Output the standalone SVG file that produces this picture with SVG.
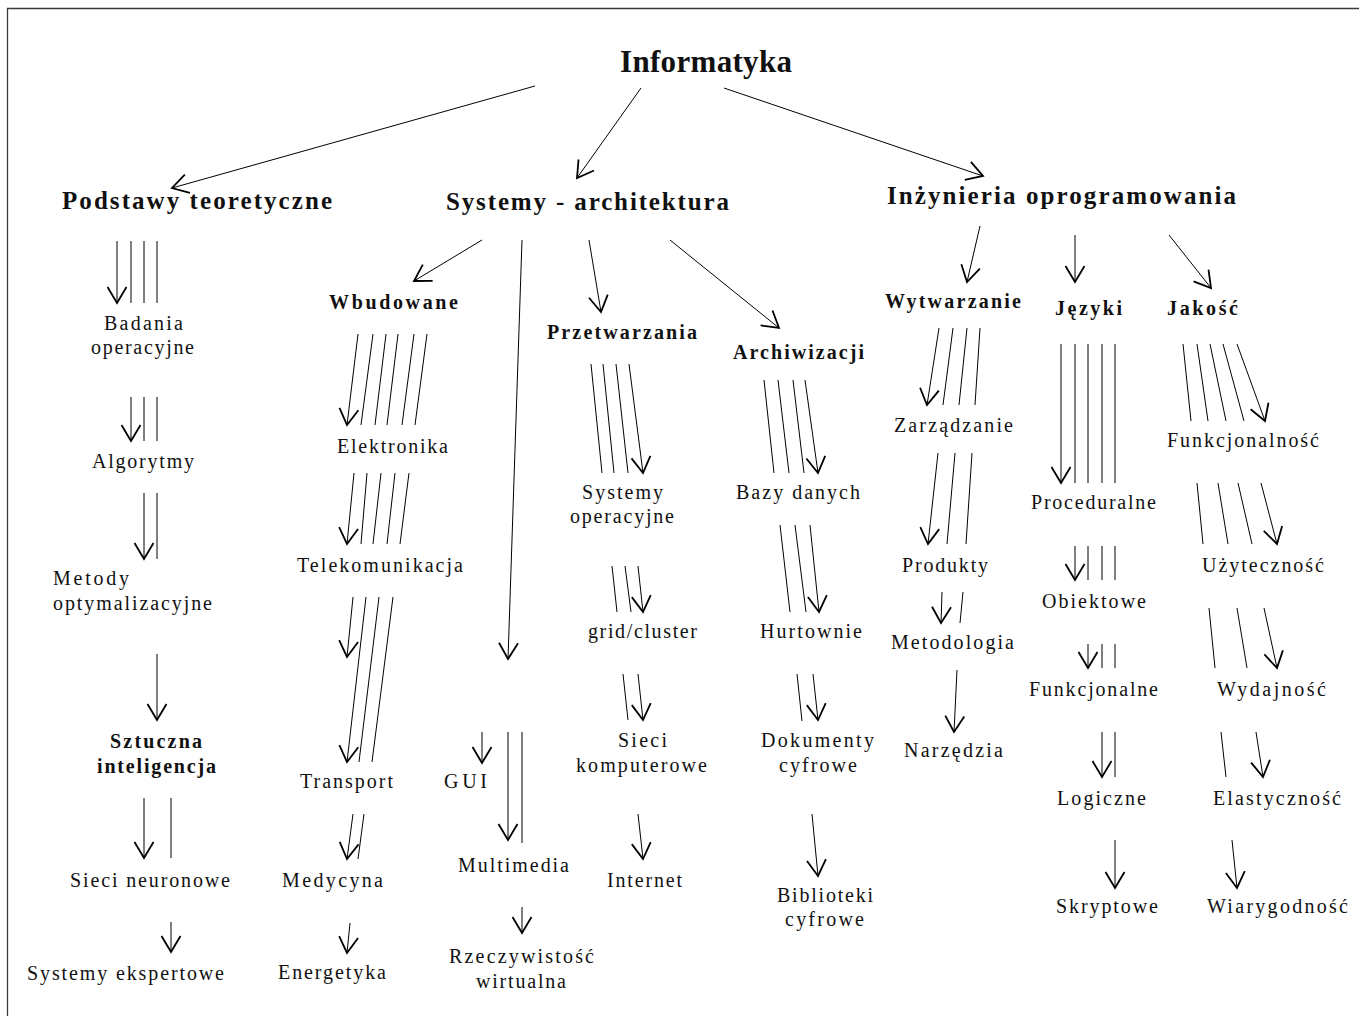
<svg xmlns="http://www.w3.org/2000/svg" width="1359" height="1016" viewBox="0 0 1359 1016">
  <style>
    .t { font-family: "Liberation Serif", "Times New Roman", serif; font-size: 20px; fill: #111; }
    .b { font-weight: bold; font-size: 20px; }
    .h { font-weight: bold; font-size: 25px; }
    .top { font-weight: bold; font-size: 31px; }
    .ln { stroke: #000; stroke-width: 1; fill: none; }
    .ar { stroke: #000; stroke-width: 1; fill: none; marker-end: url(#ah); }
    .frame { stroke: #3a3a3a; stroke-width: 1.3; fill: none; }
  </style>
  <defs>
    <marker id="ah" markerUnits="userSpaceOnUse" viewBox="-20 -12 24 24" refX="0" refY="0" markerWidth="24" markerHeight="24" orient="auto" overflow="visible">
      <path d="M-16,-9.5 L0,0 L-16,9.5" fill="none" stroke="#000" stroke-width="1.8"/>
    </marker>
  </defs>
  <rect width="1359" height="1016" fill="#fff"/>
  <path class="frame" d="M7.5,1016 V8.5 H1359"/>

  <!-- root -->
  <g id="informatyka"><text class="t top" x="620" y="72" textLength="172">Informatyka</text></g>

  <!-- main branches -->
  <g id="podstawy"><text class="t h" x="62" y="209" textLength="270">Podstawy teoretyczne</text></g>
  <g id="systemy"><text class="t h" x="446" y="210" textLength="283">Systemy - architektura</text></g>
  <g id="inzynieria"><text class="t h" x="887" y="204" textLength="349">Inżynieria oprogramowania</text></g>

  <!-- Podstawy teoretyczne -->
  <g id="badania"><text class="t" x="104" y="330" textLength="79">Badania</text><text class="t" x="91" y="354" textLength="103">operacyjne</text></g>
  <g id="algorytmy"><text class="t" x="92" y="468" textLength="102">Algorytmy</text></g>
  <g id="metody"><text class="t" x="53" y="585" textLength="76">Metody</text><text class="t" x="53" y="610" textLength="159">optymalizacyjne</text></g>
  <g id="sztuczna"><text class="t b" x="110" y="748" textLength="92">Sztuczna</text><text class="t b" x="97" y="773" textLength="119">inteligencja</text></g>
  <g id="sieci-neuronowe"><text class="t" x="70" y="887" textLength="160">Sieci neuronowe</text></g>
  <g id="systemy-ekspertowe"><text class="t" x="27" y="980" textLength="197">Systemy ekspertowe</text></g>

  <!-- Wbudowane -->
  <g id="wbudowane"><text class="t b" x="329" y="309" textLength="129">Wbudowane</text></g>
  <g id="elektronika"><text class="t" x="337" y="453" textLength="111">Elektronika</text></g>
  <g id="telekomunikacja"><text class="t" x="297" y="572" textLength="166">Telekomunikacja</text></g>
  <g id="transport"><text class="t" x="300" y="788" textLength="93">Transport</text></g>
  <g id="medycyna"><text class="t" x="282" y="887" textLength="101">Medycyna</text></g>
  <g id="energetyka"><text class="t" x="278" y="979" textLength="108">Energetyka</text></g>

  <!-- Systemy: middle -->
  <g id="gui"><text class="t" x="444" y="788" textLength="43">GUI</text></g>
  <g id="multimedia"><text class="t" x="458" y="872" textLength="111">Multimedia</text></g>
  <g id="rzeczywistosc"><text class="t" x="449" y="963" textLength="145">Rzeczywistość</text><text class="t" x="476" y="988" textLength="90">wirtualna</text></g>

  <!-- Przetwarzania -->
  <g id="przetwarzania"><text class="t b" x="547" y="339" textLength="150">Przetwarzania</text></g>
  <g id="systemy-operacyjne"><text class="t" x="582" y="499" textLength="81">Systemy</text><text class="t" x="570" y="523" textLength="104">operacyjne</text></g>
  <g id="grid"><text class="t" x="588" y="638" textLength="109">grid/cluster</text></g>
  <g id="sieci-komputerowe"><text class="t" x="618" y="747" textLength="49">Sieci</text><text class="t" x="576" y="772" textLength="131">komputerowe</text></g>
  <g id="internet"><text class="t" x="607" y="887" textLength="75">Internet</text></g>

  <!-- Archiwizacji -->
  <g id="archiwizacji"><text class="t b" x="733" y="359" textLength="131">Archiwizacji</text></g>
  <g id="bazy"><text class="t" x="736" y="499" textLength="124">Bazy danych</text></g>
  <g id="hurtownie"><text class="t" x="760" y="638" textLength="102">Hurtownie</text></g>
  <g id="dokumenty"><text class="t" x="761" y="747" textLength="113">Dokumenty</text><text class="t" x="779" y="772" textLength="78">cyfrowe</text></g>
  <g id="biblioteki"><text class="t" x="777" y="902" textLength="96">Biblioteki</text><text class="t" x="785" y="926" textLength="79">cyfrowe</text></g>

  <!-- Wytwarzanie -->
  <g id="wytwarzanie"><text class="t b" x="885" y="308" textLength="136">Wytwarzanie</text></g>
  <g id="zarzadzanie"><text class="t" x="894" y="432" textLength="119">Zarządzanie</text></g>
  <g id="produkty"><text class="t" x="902" y="572" textLength="86">Produkty</text></g>
  <g id="metodologia"><text class="t" x="891" y="649" textLength="123">Metodologia</text></g>
  <g id="narzedzia"><text class="t" x="904" y="757" textLength="99">Narzędzia</text></g>

  <!-- Języki -->
  <g id="jezyki"><text class="t b" x="1055" y="315" textLength="67">Języki</text></g>
  <g id="proceduralne"><text class="t" x="1031" y="509" textLength="125">Proceduralne</text></g>
  <g id="obiektowe"><text class="t" x="1042" y="608" textLength="104">Obiektowe</text></g>
  <g id="funkcjonalne"><text class="t" x="1029" y="696" textLength="129">Funkcjonalne</text></g>
  <g id="logiczne"><text class="t" x="1057" y="805" textLength="89">Logiczne</text></g>
  <g id="skryptowe"><text class="t" x="1056" y="913" textLength="102">Skryptowe</text></g>

  <!-- Jakość -->
  <g id="jakosc"><text class="t b" x="1167" y="315" textLength="71">Jakość</text></g>
  <g id="funkcjonalnosc"><text class="t" x="1167" y="447" textLength="152">Funkcjonalność</text></g>
  <g id="uzytecznosc"><text class="t" x="1202" y="572" textLength="122">Użyteczność</text></g>
  <g id="wydajnosc"><text class="t" x="1217" y="696" textLength="109">Wydajność</text></g>
  <g id="elastycznosc"><text class="t" x="1213" y="805" textLength="128">Elastyczność</text></g>
  <g id="wiarygodnosc"><text class="t" x="1207" y="913" textLength="141">Wiarygodność</text></g>

  <g id="connectors">
    <!-- root to branches -->
    <line class="ar" x1="535" y1="86" x2="172" y2="188"/>
    <line class="ar" x1="641" y1="88" x2="577" y2="178"/>
    <line class="ar" x1="724" y1="88" x2="983" y2="176"/>

    <!-- Podstawy teoretyczne chain -->
    <line class="ar" x1="117" y1="241" x2="117" y2="303"/>
    <line class="ln" x1="131" y1="241" x2="131" y2="303"/>
    <line class="ln" x1="144" y1="241" x2="144" y2="303"/>
    <line class="ln" x1="157" y1="241" x2="157" y2="303"/>
    <line class="ar" x1="131" y1="397" x2="131" y2="441"/>
    <line class="ln" x1="144" y1="397" x2="144" y2="441"/>
    <line class="ln" x1="157" y1="397" x2="157" y2="441"/>
    <line class="ar" x1="144" y1="493" x2="144" y2="559"/>
    <line class="ln" x1="157" y1="493" x2="157" y2="559"/>
    <line class="ar" x1="157" y1="654" x2="157" y2="720"/>
    <line class="ar" x1="144" y1="798" x2="144" y2="858"/>
    <line class="ln" x1="171" y1="798" x2="171" y2="858"/>
    <line class="ar" x1="171" y1="922" x2="171" y2="952"/>

    <!-- Systemy - architektura fan-out -->
    <line class="ar" x1="482" y1="240" x2="414" y2="281"/>
    <line class="ar" x1="522" y1="240" x2="508" y2="659"/>
    <line class="ar" x1="589" y1="240" x2="601" y2="312"/>
    <line class="ar" x1="670" y1="240" x2="779" y2="328"/>

    <!-- Wbudowane chain -->
    <line class="ar" x1="358" y1="334" x2="347" y2="425"/>
    <line class="ln" x1="373" y1="334" x2="361" y2="425"/>
    <line class="ln" x1="386" y1="334" x2="375" y2="425"/>
    <line class="ln" x1="398" y1="334" x2="387" y2="425"/>
    <line class="ln" x1="414" y1="334" x2="402" y2="425"/>
    <line class="ln" x1="427" y1="334" x2="415" y2="425"/>
    <line class="ar" x1="354" y1="473" x2="347" y2="544"/>
    <line class="ln" x1="367" y1="473" x2="361" y2="544"/>
    <line class="ln" x1="381" y1="473" x2="373" y2="544"/>
    <line class="ln" x1="395" y1="473" x2="387" y2="544"/>
    <line class="ln" x1="409" y1="473" x2="400" y2="544"/>
    <line class="ar" x1="353" y1="597" x2="347" y2="657"/>
    <line class="ar" x1="366" y1="597" x2="347" y2="762"/>
    <line class="ln" x1="379" y1="597" x2="359" y2="762"/>
    <line class="ln" x1="393" y1="597" x2="372" y2="762"/>
    <line class="ar" x1="353" y1="814" x2="347" y2="859"/>
    <line class="ln" x1="364" y1="814" x2="358" y2="859"/>
    <line class="ar" x1="350" y1="923" x2="347" y2="953"/>

    <!-- GUI / Multimedia -->
    <line class="ar" x1="482" y1="732" x2="482" y2="763"/>
    <line class="ar" x1="508" y1="732" x2="508" y2="840"/>
    <line class="ln" x1="522" y1="732" x2="522" y2="843"/>
    <line class="ar" x1="522" y1="907" x2="522" y2="933"/>

    <!-- Przetwarzania chain -->
    <line class="ln" x1="591" y1="364" x2="602" y2="473"/>
    <line class="ln" x1="603" y1="364" x2="614" y2="473"/>
    <line class="ln" x1="616" y1="364" x2="628" y2="473"/>
    <line class="ar" x1="629" y1="364" x2="643" y2="473"/>
    <line class="ln" x1="612" y1="566" x2="617" y2="612"/>
    <line class="ln" x1="625" y1="566" x2="631" y2="612"/>
    <line class="ar" x1="638" y1="566" x2="643" y2="612"/>
    <line class="ln" x1="623" y1="674" x2="628" y2="720"/>
    <line class="ar" x1="638" y1="674" x2="643" y2="720"/>
    <line class="ar" x1="638" y1="814" x2="643" y2="859"/>

    <!-- Archiwizacji chain -->
    <line class="ln" x1="764" y1="380" x2="774" y2="473"/>
    <line class="ln" x1="778" y1="380" x2="789" y2="473"/>
    <line class="ln" x1="793" y1="380" x2="804" y2="473"/>
    <line class="ar" x1="805" y1="380" x2="818" y2="473"/>
    <line class="ln" x1="780" y1="525" x2="790" y2="612"/>
    <line class="ln" x1="795" y1="525" x2="806" y2="612"/>
    <line class="ar" x1="810" y1="525" x2="819" y2="612"/>
    <line class="ln" x1="797" y1="674" x2="802" y2="721"/>
    <line class="ar" x1="813" y1="674" x2="818" y2="720"/>
    <line class="ar" x1="812" y1="814" x2="818" y2="876"/>

    <!-- Inżynieria oprogramowania fan-out -->
    <line class="ar" x1="980" y1="226" x2="967" y2="282"/>
    <line class="ar" x1="1075" y1="235" x2="1075" y2="282"/>
    <line class="ar" x1="1169" y1="235" x2="1211" y2="288"/>

    <!-- Wytwarzanie chain -->
    <line class="ar" x1="939" y1="328" x2="927" y2="405"/>
    <line class="ln" x1="953" y1="328" x2="943" y2="405"/>
    <line class="ln" x1="967" y1="328" x2="959" y2="405"/>
    <line class="ln" x1="980" y1="328" x2="975" y2="405"/>
    <line class="ar" x1="938" y1="453" x2="928" y2="544"/>
    <line class="ln" x1="955" y1="453" x2="947" y2="544"/>
    <line class="ln" x1="972" y1="453" x2="966" y2="544"/>
    <line class="ar" x1="942" y1="592" x2="941" y2="623"/>
    <line class="ln" x1="963" y1="592" x2="960" y2="623"/>
    <line class="ar" x1="957" y1="670" x2="954" y2="732"/>

    <!-- Języki chain -->
    <line class="ar" x1="1061" y1="344" x2="1061" y2="483"/>
    <line class="ln" x1="1075" y1="344" x2="1075" y2="483"/>
    <line class="ln" x1="1088" y1="344" x2="1088" y2="483"/>
    <line class="ln" x1="1102" y1="344" x2="1102" y2="483"/>
    <line class="ln" x1="1115" y1="344" x2="1115" y2="483"/>
    <line class="ar" x1="1075" y1="546" x2="1075" y2="580"/>
    <line class="ln" x1="1088" y1="546" x2="1088" y2="580"/>
    <line class="ln" x1="1102" y1="546" x2="1102" y2="580"/>
    <line class="ln" x1="1115" y1="546" x2="1115" y2="580"/>
    <line class="ar" x1="1088" y1="644" x2="1088" y2="668"/>
    <line class="ln" x1="1102" y1="644" x2="1102" y2="668"/>
    <line class="ln" x1="1115" y1="644" x2="1115" y2="668"/>
    <line class="ar" x1="1102" y1="732" x2="1102" y2="777"/>
    <line class="ln" x1="1115" y1="732" x2="1115" y2="777"/>
    <line class="ar" x1="1115" y1="840" x2="1115" y2="888"/>

    <!-- Jakość chain -->
    <line class="ln" x1="1183" y1="344" x2="1191" y2="421"/>
    <line class="ln" x1="1197" y1="344" x2="1208" y2="421"/>
    <line class="ln" x1="1210" y1="344" x2="1226" y2="421"/>
    <line class="ln" x1="1223" y1="344" x2="1244" y2="421"/>
    <line class="ar" x1="1237" y1="344" x2="1265" y2="421"/>
    <line class="ln" x1="1197" y1="483" x2="1203" y2="544"/>
    <line class="ln" x1="1218" y1="483" x2="1228" y2="544"/>
    <line class="ln" x1="1238" y1="483" x2="1252" y2="544"/>
    <line class="ar" x1="1261" y1="483" x2="1277" y2="544"/>
    <line class="ln" x1="1209" y1="608" x2="1215" y2="668"/>
    <line class="ln" x1="1237" y1="608" x2="1247" y2="668"/>
    <line class="ar" x1="1264" y1="608" x2="1277" y2="668"/>
    <line class="ln" x1="1221" y1="732" x2="1226" y2="777"/>
    <line class="ar" x1="1256" y1="732" x2="1263" y2="777"/>
    <line class="ar" x1="1232" y1="840" x2="1237" y2="888"/>
  </g>
</svg>
